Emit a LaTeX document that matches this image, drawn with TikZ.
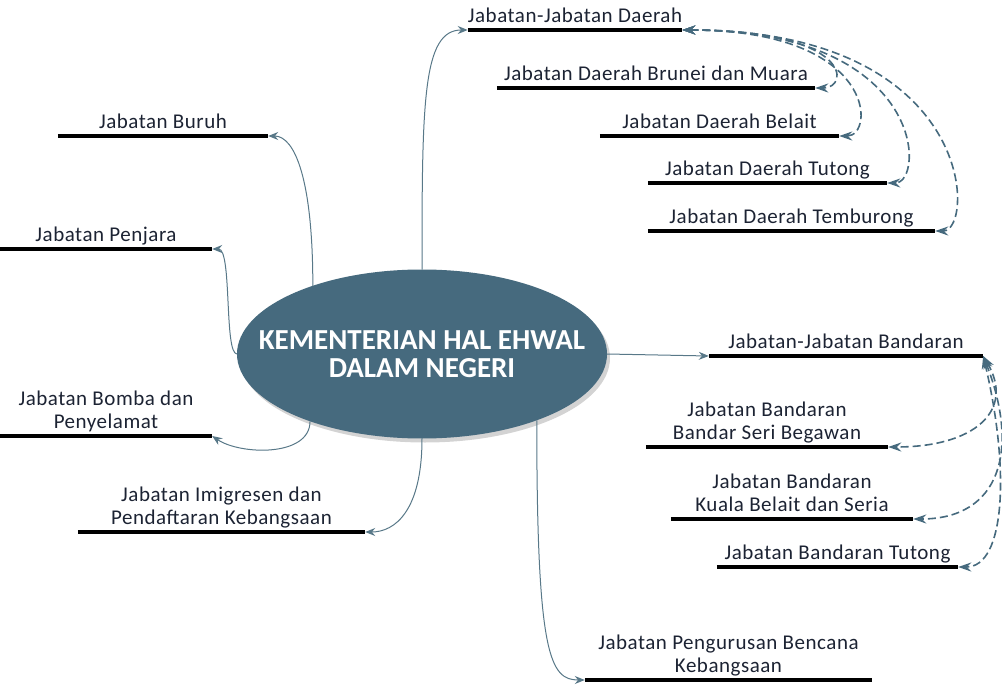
\documentclass[tikz,border=0pt]{standalone}
\usepackage{fontspec}
\setmainfont{Carlito}
\newfontfamily\leaffont[LetterSpace=2.5]{Carlito}
\usetikzlibrary{shapes.geometric,arrows.meta,shadows}
\definecolor{kemblue}{HTML}{466A7E}
\definecolor{linkblue}{HTML}{587888}
\definecolor{leafink}{HTML}{1C2333}

\begin{document}
\begin{tikzpicture}[x=1pt,y=-1pt,
  leaf/.style={anchor=south, inner xsep=0pt, inner ysep=7pt, text depth=0pt, align=center, text=leafink, font=\leaffont\fontsize{21}{23}\selectfont},
  bar/.style={line width=4pt, black},
  link/.style={-{Stealth[length=10pt,width=8pt]}, linkblue, line width=1pt},
  sublink/.style={{Stealth[length=13pt,width=9pt]}-{Stealth[length=13pt,width=9pt]}, kemblue, line width=1.6pt, dash pattern=on 8pt off 4pt}]

\useasboundingbox (0,0) rectangle (1002,685);

% centre
\node[ellipse, fill=kemblue, outer sep=0pt, minimum width=370pt, minimum height=169pt,
  drop shadow={shadow xshift=3pt,shadow yshift=-4pt,opacity=0.35}] (kem) at (422,354) {};
\node[text=white, font=\bfseries\fontsize{29}{28}\selectfont, align=center] (kemtext) at (422,354) {KEMENTERIAN HAL EHWAL\\DALAM NEGERI};

% jabatan
\node[leaf, minimum width=210pt] (dae) at (575,30) {Jabatan-Jabatan Daerah};
\node[leaf, minimum width=318pt] (bru) at (656,88) {Jabatan Daerah Brunei dan Muara};
\node[leaf, minimum width=239pt] (bel) at (719.5,136) {Jabatan Daerah Belait};
\node[leaf, minimum width=239pt] (tut) at (767.5,183) {Jabatan Daerah Tutong};
\node[leaf, minimum width=287pt] (tem) at (791.5,231) {Jabatan Daerah Temburong};
\node[leaf, minimum width=210pt] (bur) at (163,136) {Jabatan Buruh};
\node[leaf, minimum width=212pt] (pen) at (106,249) {Jabatan Penjara};
\node[leaf, minimum width=212pt] (bom) at (106,436) {Jabatan Bomba dan\\Penyelamat};
\node[leaf, minimum width=287pt] (imi) at (221.5,532) {Jabatan Imigresen dan\\Pendaftaran Kebangsaan};
\node[leaf, minimum width=274pt] (ban) at (846,356) {Jabatan-Jabatan Bandaran};
\node[leaf, minimum width=242pt] (bsb) at (767,447) {Jabatan Bandaran\\Bandar Seri Begawan};
\node[leaf, minimum width=242pt] (kbs) at (792,519) {Jabatan Bandaran\\Kuala Belait dan Seria};
\node[leaf, minimum width=241pt] (btu) at (837.5,567) {Jabatan Bandaran Tutong};
\node[leaf, minimum width=287pt] (pgb) at (728.5,680) {Jabatan Pengurusan Bencana\\Kebangsaan};

\foreach \n in {dae,bru,bel,tut,tem,bur,pen,bom,imi,ban,bsb,kbs,btu,pgb}
  \draw[bar] (\n.south west) -- (\n.south east);

\draw[link] (kem.north) .. controls +(0,-169) and +(-45,0) .. (dae.south west);
\draw[link] (kem.148.5) .. controls +(0,-105) and +(27,0) .. (bur.south east);
\draw[link] (kem.west) .. controls +(-13,0) and +(20,0) .. (pen.south east);
\draw[link] (kem.211) .. controls +(0,36) and +(28,19) .. (bom.south east);
\draw[link] (kem.south) .. controls +(0,72) and +(30,0) .. (imi.south east);
\draw[link] (kem.east) -- (ban.south west);
\draw[link] (kem.330) .. controls +(0,235) and +(-35,0) .. (pgb.south west);

\draw[sublink] (dae.south east) .. controls +(170,0) and +(35,0) .. (bru.south east);
\draw[sublink] (dae.south east) .. controls +(195,0) and +(36,0) .. (bel.south east);
\draw[sublink] (dae.south east) .. controls +(245,0) and +(38,0) .. (tut.south east);
\draw[sublink] (dae.south east) .. controls +(295,0) and +(40,0) .. (tem.south east);

\draw[sublink] (ban.south east) .. controls +(32,54) and +(87,0) .. (bsb.south east);
\draw[sublink] (ban.south east) .. controls +(37,94) and +(87,0) .. (kbs.south east);
\draw[sublink] (ban.south east) .. controls +(27,114) and +(47,0) .. (btu.south east);

\end{tikzpicture}
\end{document}
